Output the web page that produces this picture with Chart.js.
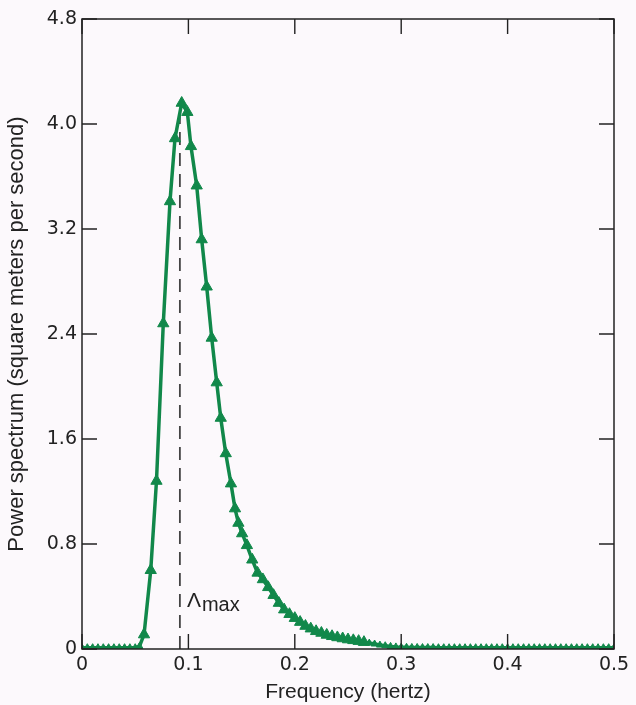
<!DOCTYPE html>
<html>
<head>
<meta charset="utf-8">
<script src="https://cdn.jsdelivr.net/npm/chart.js@4"></script>
<style>
    body { margin: 0; background: #fcf9fc; }
    #wrap { width: 636px; height: 705px; }
</style>
</head>
<body>
<div id="wrap"><canvas id="spectrum" width="636" height="705"></canvas></div>
<script>
// Frequencies (Hz) and power spectrum values
const freqs = [
    0, 0.005, 0.01, 0.015, 0.02, 0.025, 0.03, 0.035, 0.04, 0.045, 0.05, 0.054,
    0.0583, 0.0646, 0.070, 0.0764, 0.0827, 0.0874, 0.0937,
    0.099, 0.1024, 0.1078, 0.1125, 0.1172, 0.1219, 0.1266, 0.1304, 0.1351, 0.140,
    0.1438, 0.147, 0.1505, 0.155, 0.160, 0.165, 0.170, 0.175, 0.180, 0.185, 0.190,
    0.195, 0.200, 0.205, 0.210, 0.215, 0.220, 0.225, 0.230, 0.235, 0.240, 0.245,
    0.250, 0.255, 0.260, 0.265, 0.270, 0.275, 0.280, 0.285, 0.290, 0.295, 0.300,
    0.305, 0.310, 0.315, 0.320, 0.325, 0.330, 0.335, 0.340, 0.345, 0.350, 0.355,
    0.360, 0.365, 0.370, 0.375, 0.380, 0.385, 0.390, 0.395, 0.400, 0.405, 0.410,
    0.415, 0.420, 0.425, 0.430, 0.435, 0.440, 0.445, 0.450, 0.455, 0.460, 0.465,
    0.470, 0.475, 0.480, 0.485, 0.490, 0.495, 0.500
];
const power = [
    0.01, 0.01, 0.01, 0.01, 0.01, 0.01, 0.01, 0.01, 0.01, 0.01, 0.01, 0.02,
    0.11, 0.60, 1.28, 2.48, 3.41, 3.89, 4.16,
    4.09, 3.83, 3.53, 3.12, 2.76, 2.37, 2.03, 1.76, 1.49, 1.26,
    1.07, 0.96, 0.88, 0.79, 0.68, 0.58, 0.53, 0.47, 0.41, 0.35, 0.30,
    0.265, 0.235, 0.205, 0.175, 0.155, 0.135, 0.122, 0.107, 0.097, 0.088, 0.080,
    0.072, 0.066, 0.060, 0.052, 0.045, 0.038, 0.030, 0.025, 0.020, 0.016, 0.014,
    0.013, 0.012, 0.012, 0.011, 0.011, 0.011, 0.010, 0.010, 0.010, 0.010, 0.010,
    0.010, 0.010, 0.010, 0.010, 0.010, 0.010, 0.010, 0.010, 0.010, 0.010, 0.010,
    0.010, 0.010, 0.010, 0.010, 0.010, 0.010, 0.010, 0.010, 0.010, 0.010, 0.010,
    0.010, 0.010, 0.010, 0.010, 0.010, 0.010, 0.010
];

// Frequency of the spectral peak (dashed marker)
const peakFreq = 0.092;
const peakTop = 4.09;

const xTicks = [0, 0.1, 0.2, 0.3, 0.4, 0.5];
const yTicks = [0, 0.8, 1.6, 2.4, 3.2, 4.0, 4.8];

const GREEN = '#11884a';
const INK = '#222222';
const FONT = '"Liberation Sans", Arial, sans-serif';
const TICK_FONT = '"DejaVu Sans", "Liberation Sans", sans-serif';

function fmtTick(v) {
    return Math.abs(v) < 1e-9 ? '0' : v.toFixed(1);
}

/**
 * Frame around the plot with inward tick marks on all four sides,
 * plus the Lambda-max label next to the dashed line
 */
const framePlugin = {
    id: 'frame',
    afterDraw(chart) {
        const { ctx, chartArea: a, scales: { x, y } } = chart;
        ctx.save();
        ctx.strokeStyle = INK;
        ctx.lineWidth = 1.5;
        ctx.strokeRect(a.left, a.top, a.right - a.left, a.bottom - a.top);

        const len = 15;
        ctx.lineWidth = 1.4;
        ctx.beginPath();
        xTicks.forEach(t => {
            const px = x.getPixelForValue(t);
            ctx.moveTo(px, a.bottom); ctx.lineTo(px, a.bottom - len);
            ctx.moveTo(px, a.top); ctx.lineTo(px, a.top + len);
        });
        yTicks.forEach(t => {
            const py = y.getPixelForValue(t);
            ctx.moveTo(a.left, py); ctx.lineTo(a.left + len, py);
            ctx.moveTo(a.right, py); ctx.lineTo(a.right - len, py);
        });
        ctx.stroke();

        // Lambda max label
        const lx = x.getPixelForValue(peakFreq) + 7;
        const ly = y.getPixelForValue(0.32);
        ctx.fillStyle = INK;
        ctx.textBaseline = 'alphabetic';
        ctx.font = '21px ' + FONT;
        ctx.fillText('Λ', lx, ly);
        const w = ctx.measureText('Λ').width;
        ctx.font = '20px ' + FONT;
        ctx.fillText('max', lx + w + 1, ly + 4);
        ctx.restore();
    }
};

const points = freqs.map((f, i) => ({ x: f, y: power[i] }));

new Chart(document.getElementById('spectrum'), {
    type: 'scatter',
    data: {
        datasets: [
            {
                label: 'Power spectrum',
                data: points,
                showLine: true,
                borderColor: GREEN,
                backgroundColor: GREEN,
                borderWidth: 3.5,
                pointStyle: 'triangle',
                pointRadius: ctx => (ctx.raw && ctx.raw.y < 0.05 ? 4 : 6.5),
                pointBorderWidth: 1,
                tension: 0
            },
            {
                label: 'Peak',
                data: [{ x: peakFreq, y: 0 }, { x: peakFreq, y: peakTop }],
                showLine: true,
                borderColor: '#444444',
                borderWidth: 1.8,
                borderDash: [13, 8],
                pointRadius: 0
            }
        ]
    },
    options: {
        responsive: false,
        animation: false,
        layout: { padding: { top: 19, right: 22, left: 0, bottom: 0 } },
        plugins: {
            legend: { display: false },
            tooltip: { enabled: false }
        },
        scales: {
            x: {
                type: 'linear',
                min: 0,
                max: 0.5,
                border: { display: false },
                grid: { display: false, drawTicks: false },
                afterBuildTicks: s => { s.ticks = xTicks.map(v => ({ value: v })); },
                afterFit: s => { s.height = 56; },
                ticks: {
                    padding: 5,
                    color: INK,
                    font: { family: TICK_FONT, size: 19 },
                    callback: v => fmtTick(v),
                    maxRotation: 0
                },
                title: {
                    display: true,
                    text: 'Frequency (hertz)',
                    color: INK,
                    font: { family: FONT, size: 21 },
                    padding: { top: 2, bottom: 0 }
                }
            },
            y: {
                type: 'linear',
                min: 0,
                max: 4.8,
                border: { display: false },
                grid: { display: false, drawTicks: false },
                afterBuildTicks: s => { s.ticks = yTicks.map(v => ({ value: v })); },
                afterFit: s => { s.width = 82; },
                ticks: {
                    padding: 5,
                    color: INK,
                    font: { family: TICK_FONT, size: 19 },
                    callback: v => fmtTick(v)
                },
                title: {
                    display: true,
                    text: 'Power spectrum (square meters per second)',
                    color: INK,
                    font: { family: FONT, size: 22 },
                    padding: { top: 4, bottom: 0 }
                }
            }
        }
    },
    plugins: [framePlugin]
});
</script>
</body>
</html>
